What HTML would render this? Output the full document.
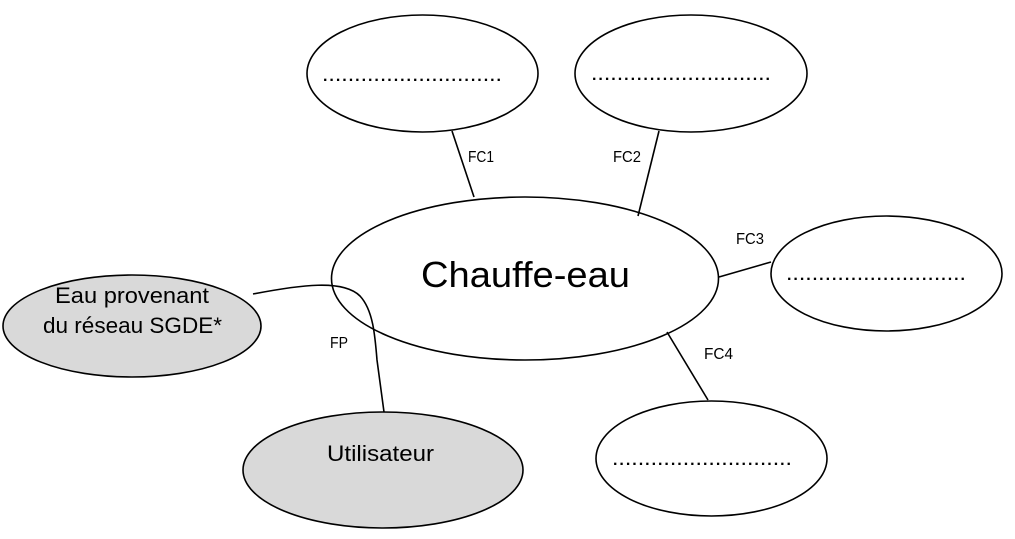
<!DOCTYPE html>
<html><head><meta charset="utf-8"><style>
html,body{margin:0;padding:0;background:#fff;}
svg{display:block;}
</style></head><body>
<svg width="1015" height="539" viewBox="0 0 1015 539" xmlns="http://www.w3.org/2000/svg">
<g fill="none" stroke="#000" stroke-width="1.6">
  <line x1="452" y1="131" x2="474" y2="197"/>
  <line x1="659" y1="131" x2="638" y2="216"/>
  <line x1="719" y1="277" x2="771" y2="262"/>
  <line x1="667" y1="332" x2="708" y2="400"/>
</g>
<g stroke="#000" stroke-width="1.6">
  <ellipse cx="422.5" cy="73.5" rx="115.5" ry="58.5" fill="#fff"/>
  <ellipse cx="691" cy="73.5" rx="116" ry="58.5" fill="#fff"/>
  <ellipse cx="886.5" cy="273.5" rx="115.5" ry="57.5" fill="#fff"/>
  <ellipse cx="711.5" cy="458.5" rx="115.5" ry="57.5" fill="#fff"/>
  <ellipse cx="132" cy="326" rx="129" ry="51" fill="#d9d9d9"/>
  <ellipse cx="383" cy="470" rx="140" ry="58" fill="#d9d9d9"/>
</g>
<ellipse cx="525" cy="278.5" rx="193.5" ry="81.5" fill="none" stroke="#000" stroke-width="1.6"/>
<path d="M253,294 C300,285 343,279 360,296 C373,310 375,335 377,360 L384,412" fill="none" stroke="#000" stroke-width="1.6"/>

<g font-family="Liberation Sans, sans-serif" fill="#000">
  <text x="421" y="287" font-size="36" textLength="209" lengthAdjust="spacingAndGlyphs">Chauffe-eau</text>
  <text x="55" y="303" font-size="22" textLength="154" lengthAdjust="spacingAndGlyphs">Eau provenant</text>
  <text x="43" y="333" font-size="22" textLength="179" lengthAdjust="spacingAndGlyphs">du réseau SGDE*</text>
  <text x="327" y="461" font-size="22" textLength="107" lengthAdjust="spacingAndGlyphs">Utilisateur</text>

  <text x="468" y="162" font-size="16" textLength="26" lengthAdjust="spacingAndGlyphs">FC1</text>
  <text x="613" y="162" font-size="16" textLength="28" lengthAdjust="spacingAndGlyphs">FC2</text>
  <text x="736" y="244" font-size="16" textLength="28" lengthAdjust="spacingAndGlyphs">FC3</text>
  <text x="704" y="359" font-size="16" textLength="29" lengthAdjust="spacingAndGlyphs">FC4</text>
  <text x="330" y="348" font-size="16" textLength="18" lengthAdjust="spacingAndGlyphs">FP</text>

  <text x="323" y="81" font-size="16" font-weight="bold" textLength="178" lengthAdjust="spacing">............................</text>
  <text x="592" y="80" font-size="16" font-weight="bold" textLength="178" lengthAdjust="spacing">............................</text>
  <text x="787" y="280" font-size="16" font-weight="bold" textLength="178" lengthAdjust="spacing">............................</text>
  <text x="613" y="465" font-size="16" font-weight="bold" textLength="178" lengthAdjust="spacing">............................</text>
</g>
</svg>
</body></html>
